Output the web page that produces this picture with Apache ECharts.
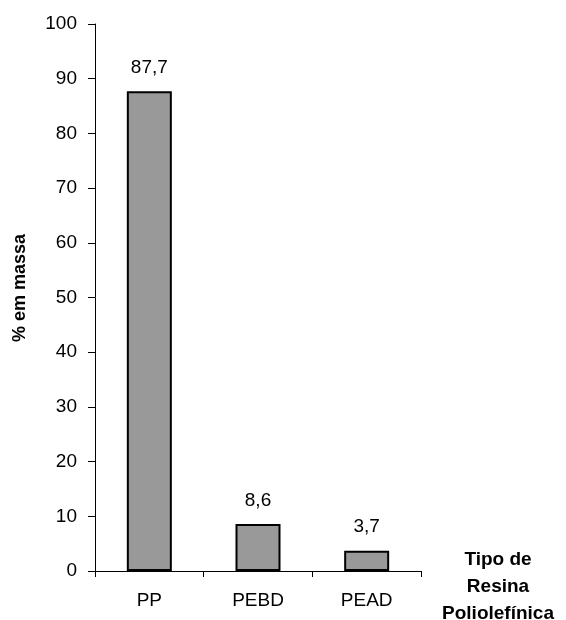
<!DOCTYPE html>
<html><head><meta charset="utf-8">
<script src="https://cdn.jsdelivr.net/npm/echarts@6/dist/echarts.min.js"></script>
<style>html,body{margin:0;padding:0;background:#fff}#c{width:566px;height:620px}</style>
</head><body><div id="c"></div>
<script>
const categories = ['PP', 'PEBD', 'PEAD'];
const values = [87.7, 8.6, 3.7];
const valueLabels = ['87,7', '8,6', '3,7'];
const yTitle = '% em massa';
const xTitle = 'Tipo de\nResina\nPoliolefínica';

const chart = echarts.init(document.getElementById('c'), null, {renderer: 'canvas'});
const font = '"Liberation Sans", Arial, sans-serif';
chart.setOption({
  animation: false,
  backgroundColor: '#fff',
  grid: {left: 95, right: 145, top: 24, bottom: 49},
  xAxis: {
    type: 'category', data: categories, boundaryGap: true,
    axisLine: {lineStyle: {color: '#000', width: 1}},
    axisTick: {show: true, length: 6, alignWithLabel: false, lineStyle: {color: '#000'}},
    axisLabel: {color: '#000', fontFamily: font, fontSize: 19, margin: 20}
  },
  yAxis: {
    type: 'value', min: 0, max: 100, interval: 10,
    axisLine: {show: true, lineStyle: {color: '#000', width: 1}},
    axisTick: {show: true, length: 7, lineStyle: {color: '#000'}},
    axisLabel: {color: '#000', fontFamily: font, fontSize: 19, margin: 18},
    splitLine: {show: false}
  },
  graphic: [{
    type: 'text', x: 498, y: 546,
    style: {text: xTitle, fill: '#000', font: 'bold 19px "Liberation Sans", Arial, sans-serif', align: 'center', verticalAlign: 'top', lineHeight: 27}
  }, {
    type: 'text', x: 20, y: 288, rotation: Math.PI / 2,
    style: {text: yTitle, fill: '#000', font: 'bold 18px "Liberation Sans", Arial, sans-serif', align: 'center', verticalAlign: 'middle'}
  }],
  series: [{
    type: 'bar', data: values, barWidth: 45,
    itemStyle: {color: '#999999', borderColor: '#000', borderWidth: 2},
    label: {show: true, position: 'top', distance: 14, color: '#000', fontFamily: font, fontSize: 19,
      formatter: p => valueLabels[p.dataIndex]}
  }]
});
</script></body></html>
